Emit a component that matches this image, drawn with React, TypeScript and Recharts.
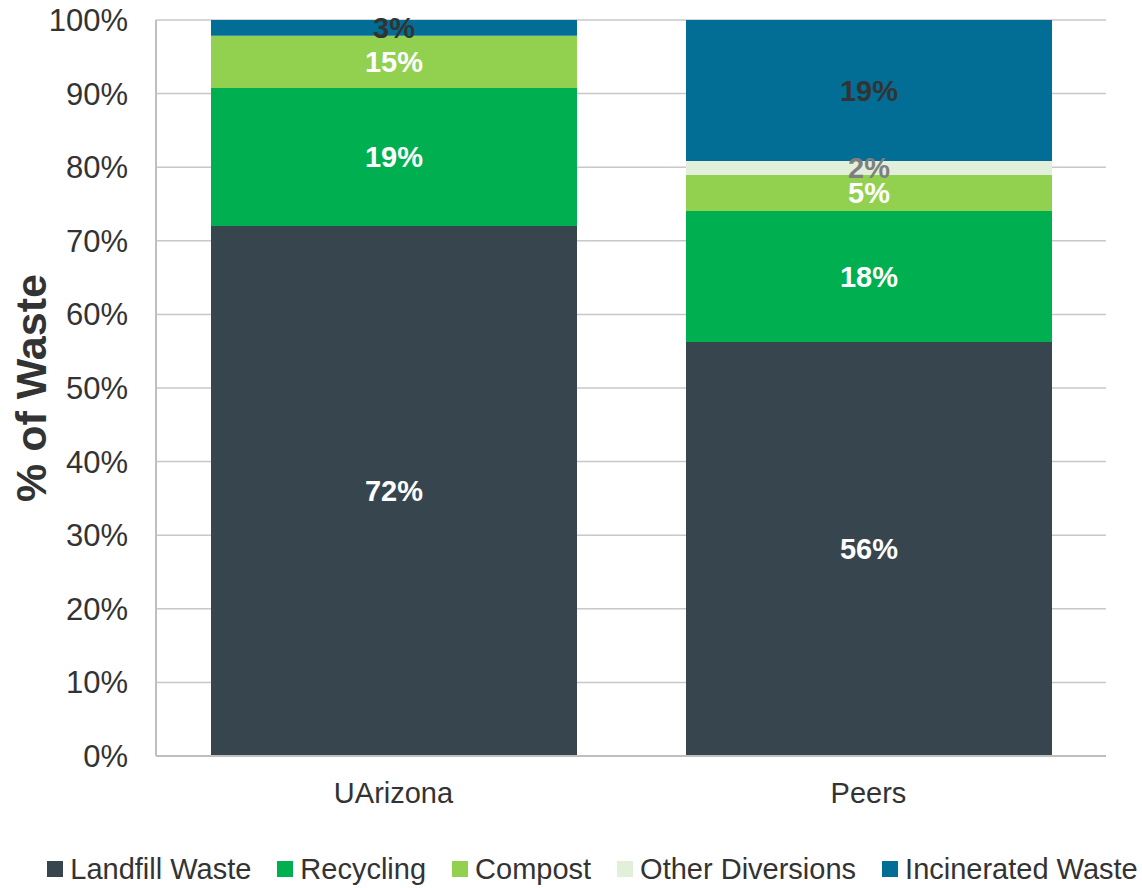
import React from 'react';
import { BarChart, Bar, XAxis, YAxis, CartesianGrid, Legend, LabelList } from 'recharts';

const categories = ['UArizona', 'Peers'];
const seriesNames = ['Landfill Waste', 'Recycling', 'Compost', 'Other Diversions', 'Incinerated Waste'];
const seriesKeys = ['landfill', 'recycling', 'compost', 'other', 'incinerated'];
const seriesColors = ['#37454F', '#00AF4F', '#92D050', '#E2EFDA', '#026E95'];
const labelColors = ['#FFFFFF', '#FFFFFF', '#FFFFFF', '#7F7F7F', '#333333'];

// segment heights (fraction of waste) as drawn
const landfillValues = [0.72, 0.5625];
const recyclingValues = [0.1875, 0.178];
const compostValues = [0.071, 0.049];
const otherValues = [0, 0.019];
const incineratedValues = [0.0215, 0.1915];

// data labels as printed on the chart
const landfillLabels = ['72%', '56%'];
const recyclingLabels = ['19%', '18%'];
const compostLabels = ['15%', '5%'];
const otherLabels = [null, '2%'];
const incineratedLabels = ['3%', '19%'];

const yTicks = [0, 0.1, 0.2, 0.3, 0.4, 0.5, 0.6, 0.7, 0.8, 0.9, 1];

const valueArrays = [landfillValues, recyclingValues, compostValues, otherValues, incineratedValues];
const labelArrays = [landfillLabels, recyclingLabels, compostLabels, otherLabels, incineratedLabels];

const data = categories.map((c, i) => {
  const row: any = { name: c };
  seriesKeys.forEach((k, s) => {
    row[k] = valueArrays[s][i];
    row[k + 'Label'] = labelArrays[s][i];
  });
  return row;
});

const FONT = 'Arial, "Liberation Sans", sans-serif';

const CustomLegend = () => (
  <div
    style={{
      height: 38,
      display: 'flex',
      justifyContent: 'center',
      alignItems: 'center',
      fontFamily: FONT,
      fontSize: 29,
      color: '#333333',
      whiteSpace: 'nowrap',
      paddingLeft: 43,
    }}
  >
    {seriesNames.map((n, i) => (
      <div key={n} style={{ display: 'flex', alignItems: 'center', marginRight: i < seriesNames.length - 1 ? 26 : 0 }}>
        <span style={{ display: 'inline-block', width: 16, height: 16, background: seriesColors[i], marginRight: 7 }} />
        <span>{n}</span>
      </div>
    ))}
  </div>
);

const YLabel = (props: any) => {
  const vb = props.viewBox;
  const cx = vb.x + 31;
  const cy = vb.y + vb.height / 2;
  return (
    <text
      x={cx}
      y={cy}
      transform={`rotate(-90, ${cx}, ${cy})`}
      textAnchor="middle"
      dominantBaseline="central"
      fontFamily={FONT}
      fontWeight="bold"
      fontSize={43}
      fill="#333333"
    >
      % of Waste
    </text>
  );
};

export default function App() {
  return (
    <div style={{ position: 'absolute', left: 0, top: 0, width: 1142, height: 888, background: '#fff' }}>
      <BarChart width={1142} height={888} data={data} margin={{ top: 20, right: 36, bottom: 0, left: 0 }} barSize={366}>
        <CartesianGrid vertical={false} stroke="#C8C8C8" strokeWidth={1.5} />
        <XAxis
          dataKey="name"
          height={94}
          tickLine={false}
          tickSize={0}
          tickMargin={26}
          axisLine={{ stroke: '#BFBFBF', strokeWidth: 2 }}
          tick={{ fontFamily: FONT, fontSize: 29, fill: '#333333' }}
        />
        <YAxis
          width={156}
          domain={[0, 1]}
          ticks={yTicks}
          interval={0}
          tickLine={false}
          tickSize={0}
          tickMargin={28}
          axisLine={{ stroke: '#BFBFBF', strokeWidth: 2 }}
          tickFormatter={(v: number) => `${Math.round(v * 100)}%`}
          tick={{ fontFamily: FONT, fontSize: 31, fill: '#333333' }}
          label={{ content: YLabel }}
        />
        <YAxis
          yAxisId="right"
          orientation="right"
          width={0}
          domain={[0, 1]}
          tick={false}
          tickLine={false}
          axisLine={{ stroke: '#C8C8C8', strokeWidth: 1.5 }}
        />
        <Legend verticalAlign="bottom" content={CustomLegend} wrapperStyle={{ left: 0, width: 1142 }} />
        {seriesKeys.map((k, s) => (
          <Bar key={k} dataKey={k} name={seriesNames[s]} stackId="a" fill={seriesColors[s]} isAnimationActive={false}>
            <LabelList
              dataKey={k + 'Label'}
              position="center"
              fill={labelColors[s]}
              style={{ fontFamily: FONT, fontSize: 29, fontWeight: 'bold' }}
            />
          </Bar>
        ))}
      </BarChart>
    </div>
  );
}
